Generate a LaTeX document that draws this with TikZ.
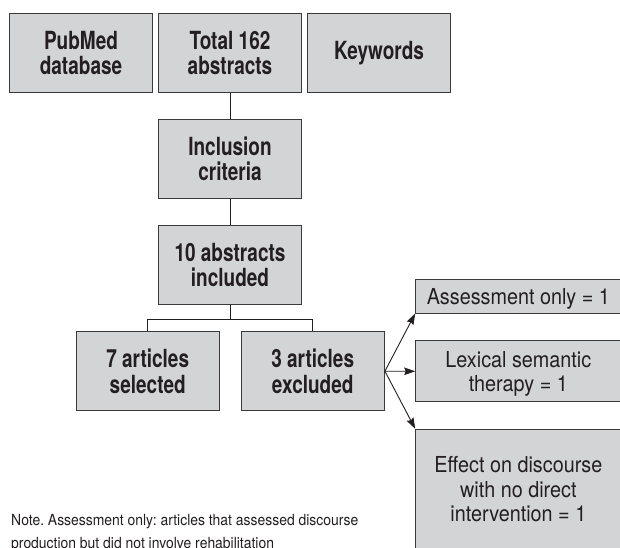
\documentclass[tikz,border=0pt]{standalone}
\usepackage{fontspec}
\setmainfont{TeX Gyre Heros}
\newfontfamily\boxbold{TeX Gyre Heros}[FakeStretch=0.76]
\newfontfamily\boxreg{TeX Gyre Heros}[FakeStretch=0.9]
\newfontfamily\notefont{TeX Gyre Heros}[FakeStretch=0.91]
\usetikzlibrary{arrows.meta}
\definecolor{boxfill}{HTML}{D3D4D6}
\definecolor{boxline}{HTML}{3A3A3A}
\definecolor{ink}{HTML}{231F20}
\tikzset{
  basebox/.style={draw=boxline, line width=1pt, fill=boxfill, text=ink,
    align=center, inner sep=0pt, minimum width=143.4pt, minimum height=78.7pt},
  boldbox/.style={basebox, font=\boxbold\bfseries\fontsize{25}{25.4}\selectfont},
  regbox/.style={basebox, minimum width=205.3pt, text depth=0pt,
    font=\boxreg\fontsize{22}{24.6}\selectfont},
  link/.style={draw=ink, line width=0.9pt},
  arrowlink/.style={link, -{Stealth[length=11pt,width=7.5pt,inset=1.5pt]}},
  notetext/.style={text=ink, align=left, inner sep=0pt, anchor=base west,
    font=\notefont\fontsize{15.3}{23}\selectfont\frenchspacing}
}
\begin{document}
\begin{tikzpicture}[x=1pt,y=-1pt]
\useasboundingbox (0,0) rectangle (620,547);
\fill[white] (0,0) rectangle (620,547);
\node[boldbox] (pub) at (81,52.7) {PubMed\\database};
\node[boldbox] (tot) at (230,52.7) {Total 162\\abstracts};
\node[boldbox] (key) at (379,52.7) {Keywords};
\node[boldbox] (inc) at (230,158.8) {Inclusion\\criteria};
\node[boldbox] (ten) at (230,265) {10 abstracts\\included};
\node[boldbox] (sev) at (147.7,371.2) {7 articles\\selected};
\node[boldbox] (thr) at (312.7,371.2) {3 articles\\excluded};
\node[regbox, minimum height=33.7pt] (ass) at (518.35,296.2) {Assessment only = 1};
\node[regbox, minimum height=61.3pt] (lex) at (518.35,371.3) {Lexical semantic\\therapy = 1};
\node[regbox, minimum height=119.4pt] (eff) at (518.35,489) {Effect on discourse\\with no direct\\intervention = 1};
\node[notetext] (note) at (11,548) {Note. Assessment only: articles that assessed discourse\\production but did not involve rehabilitation};
\coordinate (fork) at (230,319);
\draw[link] (tot.south) -- (inc.north);
\draw[link] (inc.south) -- (ten.north);
\draw[link] (ten.south) -- (fork) -| (sev.north);
\draw[link] (fork) -| (thr.north);
\draw[arrowlink] (thr.east) -- (ass.south west);
\draw[arrowlink] (thr.east) -- (lex.west);
\draw[arrowlink] (thr.east) -- (eff.north west);
\end{tikzpicture}
\end{document}
